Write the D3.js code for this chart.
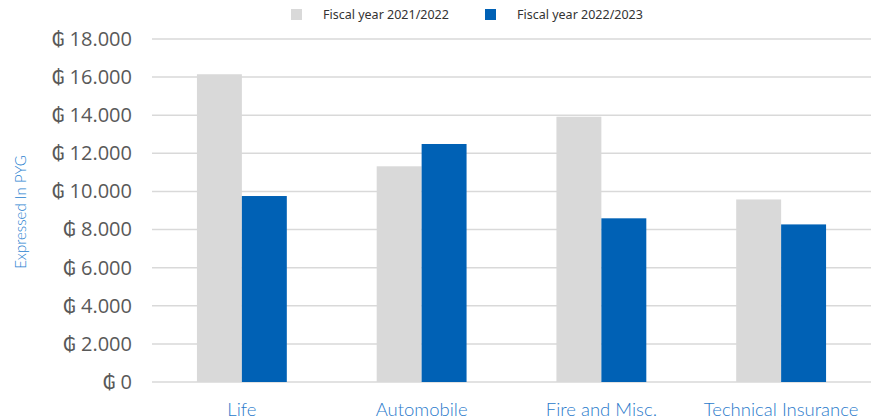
<!DOCTYPE html>
<html>
<head>
<meta charset="utf-8">
<script src="https://cdn.jsdelivr.net/npm/d3@7"></script>
<style>
  body { margin: 0; background: #fff; }
  svg { display: block; }
</style>
</head>
<body>
<svg id="chart" width="871" height="420"></svg>
<script>
// data
var categories = ["Life", "Automobile", "Fire and Misc.", "Technical Insurance"];
var seriesNames = ["Fiscal year 2021/2022", "Fiscal year 2022/2023"];
var fy2122 = [16150, 11320, 13920, 9580];
var fy2223 = [9760, 12490, 8590, 8270];
var yTicks = [0, 2000, 4000, 6000, 8000, 10000, 12000, 14000, 16000, 18000];
var colors = ["#d9d9d9", "#0061b5"];

var svg = d3.select("#chart"),
    WIDTH = 871,
    HEIGHT = 420,
    MARGINS = { top: 39, right: 0, bottom: 38, left: 152 };

var rows = categories.map(function (c, i) {
  return { cat: c, values: [fy2122[i], fy2223[i]] };
});

var x0 = d3.scaleBand()
    .domain(categories)
    .range([MARGINS.left, WIDTH - MARGINS.right])
    .paddingInner(0.5)
    .paddingOuter(0.25);

var x1 = d3.scaleBand()
    .domain([0, 1])
    .range([0, x0.bandwidth()]);

var y = d3.scaleLinear()
    .domain([0, 18000])
    .range([HEIGHT - MARGINS.bottom, MARGINS.top]);

var fmt = d3.formatLocale({ decimal: ",", thousands: ".", grouping: [3], currency: ["", ""] }).format(",.0f");

// gridlines
svg.append("g")
  .selectAll("line")
  .data(yTicks)
  .join("line")
    .attr("x1", MARGINS.left)
    .attr("x2", WIDTH)
    .attr("y1", function (d) { return y(d); })
    .attr("y2", function (d) { return y(d); })
    .attr("stroke", "#d9d9d9")
    .attr("stroke-width", 1.5);

// y axis labels
var yAxis = d3.axisLeft(y)
    .tickValues(yTicks)
    .tickSize(0)
    .tickPadding(20)
    .tickFormat(function (d) { return "\u20B2 " + fmt(d); });

svg.append("g")
    .attr("transform", "translate(" + MARGINS.left + ",0)")
    .call(yAxis)
    .call(function (g) { g.select(".domain").remove(); })
    .selectAll("text")
      .attr("fill", "#595959")
      .style("font-family", "'Open Sans', 'DejaVu Sans', sans-serif")
      .style("font-size", "20px");

// bars
svg.append("g")
  .selectAll("g")
  .data(rows)
  .join("g")
    .attr("transform", function (d) { return "translate(" + x0(d.cat) + ",0)"; })
  .selectAll("rect")
  .data(function (d) { return d.values.map(function (v, i) { return { i: i, v: v }; }); })
  .join("rect")
    .attr("x", function (d) { return x1(d.i); })
    .attr("width", x1.bandwidth())
    .attr("y", function (d) { return y(d.v); })
    .attr("height", function (d) { return y(0) - y(d.v); })
    .attr("fill", function (d) { return colors[d.i]; });

// x axis labels
var xAxis = d3.axisBottom(x0).tickSize(0).tickPadding(21);
svg.append("g")
    .attr("transform", "translate(0," + y(0) + ")")
    .call(xAxis)
    .call(function (g) { g.select(".domain").remove(); })
    .selectAll("text")
      .attr("fill", "#2a7acb")
      .style("font-family", "Lato, 'Open Sans', sans-serif")
      .style("font-size", "18.5px")
      .style("font-weight", 300);

// y axis title
svg.append("text")
    .attr("transform", "translate(26,212) rotate(-90)")
    .attr("text-anchor", "middle")
    .attr("fill", "#2a7fd0")
    .style("font-family", "Lato, 'Open Sans', sans-serif")
    .style("font-size", "15px")
    .style("font-weight", 300)
    .text("Expressed In PYG");

// legend
var legendX = [291, 485];
var legend = svg.append("g")
  .selectAll("g")
  .data(seriesNames)
  .join("g")
    .attr("transform", function (d, i) { return "translate(" + legendX[i] + ",9)"; });

legend.append("rect")
    .attr("width", 11)
    .attr("height", 11)
    .attr("fill", function (d, i) { return colors[i]; });

legend.append("text")
    .attr("x", 32)
    .attr("y", 10)
    .attr("fill", "#333")
    .style("font-family", "'Noto Sans', sans-serif")
    .style("font-size", "12.5px")
    .text(function (d) { return d; });
</script>
</body>
</html>
